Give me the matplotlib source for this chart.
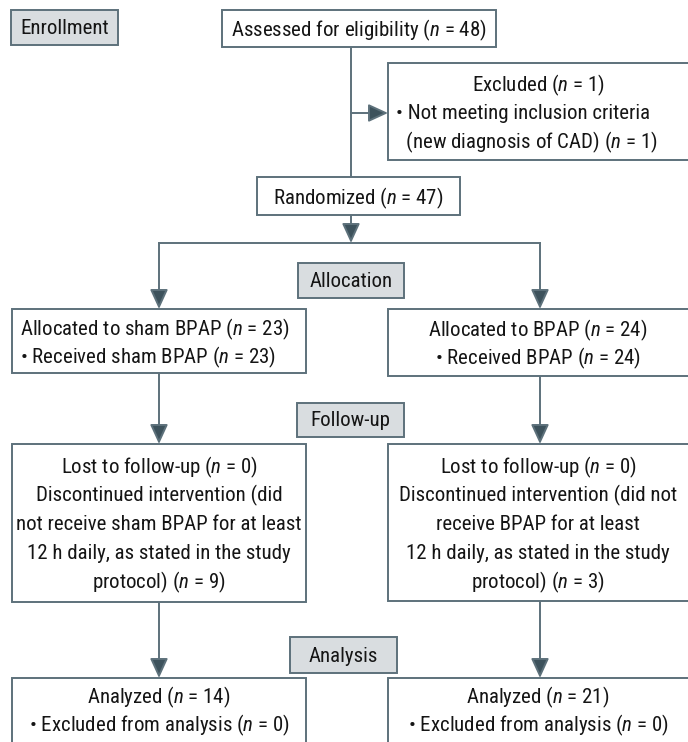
import matplotlib
matplotlib.use('Agg')
import matplotlib.pyplot as plt
from matplotlib.patches import Rectangle, FancyArrowPatch

plt.rcParams['font.family'] = ['Roboto Condensed', 'DejaVu Sans']
plt.rcParams['mathtext.fontset'] = 'custom'
plt.rcParams['mathtext.rm'] = 'Roboto Condensed'
plt.rcParams['mathtext.it'] = 'Roboto Condensed:italic'

# counts in the flow
assessed_n = 48
excluded_n = 1
randomized_n = 47
groups = ['sham BPAP', 'BPAP']
allocated_n = [23, 24]
received_n = [23, 24]
lost_n = [0, 0]
discontinued_n = [9, 3]
analyzed_n = [14, 21]
excl_analysis_n = [0, 0]

stages = ['Enrollment', 'Allocation', 'Follow-up', 'Analysis']

LINE = '#5d717b'
HEAD = '#3d525c'
GRAY = '#d9dde0'
TXT = '#151515'
FS = 15
DY = 28.8
OFF = 2  # small nudge so text sits like the original


def n(v):
    return '($n$ = %d)' % v


def box(ax, x0, y0, x1, y1, fill='white'):
    ax.add_patch(Rectangle((x0, y0), x1 - x0, y1 - y0, facecolor=fill,
                           edgecolor=LINE, lw=1.4, zorder=2))


def arrow(ax, p0, p1):
    ax.add_patch(FancyArrowPatch(p0, p1, arrowstyle='-|>,head_length=1.2,head_width=0.55',
                                 mutation_scale=10, facecolor=HEAD, edgecolor=LINE, lw=1.4,
                                 shrinkA=0, shrinkB=0, zorder=1))


def lines(ax, x, y0, rows, ha='center'):
    for i, r in enumerate(rows):
        ax.text(x, y0 + OFF + i * DY, r, ha=ha, va='center', fontsize=FS, color=TXT, zorder=3)


fig = plt.figure(figsize=(6.88, 7.42), dpi=100)
ax = fig.add_axes([0, 0, 1, 1])
ax.set_xlim(0, 688)
ax.set_ylim(742, 0)
ax.axis('off')

# connectors
ax.plot([351, 351], [47, 177], color=LINE, lw=1.4, zorder=1)
arrow(ax, (351, 113), (388, 113))
arrow(ax, (351, 215), (351, 243))
ax.plot([159, 540], [243, 243], color=LINE, lw=1.4, zorder=1)
arrow(ax, (159, 243), (159, 309))
arrow(ax, (540, 243), (540, 309))
arrow(ax, (159, 373), (159, 444))
arrow(ax, (540, 376), (540, 444))
arrow(ax, (159, 602), (159, 678))
arrow(ax, (540, 601), (540, 678))

# stage labels
stage_pos = [(11, 10, 118, 45), (298, 263, 404, 298), (297, 403, 404, 437), (290, 637, 397, 673)]
for s, (x0, y0, x1, y1) in zip(stages, stage_pos):
    box(ax, x0, y0, x1, y1, fill=GRAY)
    ax.text((x0 + x1) / 2, (y0 + y1) / 2 + 1, s, ha='center', va='center',
            fontsize=FS, color=TXT, zorder=3)

# enrollment
box(ax, 222, 10, 496, 47)
lines(ax, 359, 28, ['Assessed for eligibility ' + n(assessed_n)])

box(ax, 388, 63, 692, 160)
lines(ax, 538, 83, ['Excluded ' + n(excluded_n)])
lines(ax, 396, 83 + DY, ['\u2022 Not meeting inclusion criteria',
                         '  (new diagnosis of CAD) ' + n(excluded_n)], ha='left')

box(ax, 257, 177, 460, 215)
lines(ax, 358, 196, ['Randomized ' + n(randomized_n)])

# allocation
box(ax, 12, 309, 306, 373)
lines(ax, 20, 327, ['Allocated to %s %s' % (groups[0], n(allocated_n[0])),
                    '\u2022 Received %s %s' % (groups[0], n(received_n[0]))], ha='left')
box(ax, 388, 309, 692, 376)
lines(ax, 538, 328, ['Allocated to %s %s' % (groups[1], n(allocated_n[1])),
                     '\u2022 Received %s %s' % (groups[1], n(received_n[1]))])

# follow-up
box(ax, 12, 444, 306, 602)
lines(ax, 159, 465, ['Lost to follow-up ' + n(lost_n[0]),
                     'Discontinued intervention (did',
                     'not receive sham BPAP for at least',
                     '12 h daily, as stated in the study',
                     'protocol) ' + n(discontinued_n[0])])
box(ax, 388, 444, 692, 601)
lines(ax, 538, 465, ['Lost to follow-up ' + n(lost_n[1]),
                     'Discontinued intervention (did not',
                     'receive BPAP for at least',
                     '12 h daily, as stated in the study',
                     'protocol) ' + n(discontinued_n[1])])

# analysis
box(ax, 12, 678, 306, 760)
lines(ax, 159, 695, ['Analyzed ' + n(analyzed_n[0]),
                     '\u2022 Excluded from analysis ' + n(excl_analysis_n[0])])
box(ax, 388, 678, 692, 760)
lines(ax, 538, 695, ['Analyzed ' + n(analyzed_n[1]),
                     '\u2022 Excluded from analysis ' + n(excl_analysis_n[1])])

fig.savefig('out.png', dpi=100)
